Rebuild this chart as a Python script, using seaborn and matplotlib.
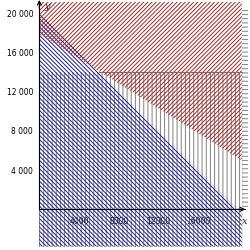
import numpy as np
import matplotlib
matplotlib.use("Agg")
import matplotlib.pyplot as plt
import seaborn as sns

# constraint lines
l1_intercepts = [20000, 20000]   # x + y = 20000 (blue side below)
l2_intercepts = [28300, 17900]   # x-intercept, y-intercept (red side above)
y_cap = 14000                    # y = 14000 (grey side below)

# window of the original drawing
x_right = 20400
y_bottom = -3800
y_top = 21150
dash_x = [20400, 21050]
dash_y = [0, 20400]

y_ticks_major = [4000, 8000, 12000, 16000, 20000]
x_ticks_major = [4000, 8000, 12000, 16000]
minor_ticks = list(range(2000, 20001, 2000))

red = "#9e2a2a"
blue = "#1f1f86"
grey = "#808080"

sns.set_theme(style="white")
plt.rcParams['font.family'] = ['DejaVu Sans']
plt.rcParams['hatch.linewidth'] = 0.7

fig = plt.figure(figsize=(2.5, 2.5), dpi=100)
ax = fig.add_axes([0, 0, 1, 1])
ax.set_xlim(-3960, 21230)
ax.set_ylim(-4153, 21357)

xs = np.array([0, x_right])
l1 = l1_intercepts[1] - l1_intercepts[1] / l1_intercepts[0] * xs
l2 = l2_intercepts[1] - l2_intercepts[1] / l2_intercepts[0] * xs

# grey region y <= 14000
ax.fill_between(xs, y_bottom, y_cap, facecolor="none", edgecolor=grey,
                hatch="||||", linewidth=0)
# blue region below x + y = 20000
ax.fill_between(xs, y_bottom, l1, facecolor="none", edgecolor=blue,
                hatch="\\" * 8, linewidth=0)
# red region above second line
ax.fill_between(xs, l2, y_top, facecolor="none", edgecolor=red,
                hatch="/" * 8, linewidth=0)
# little strip of dashes on the right
ax.fill_between(dash_x, dash_y[0], dash_y[1], facecolor="none", edgecolor=grey,
                hatch="----", linewidth=0)

# boundary of the grey region (visible where it leaves the blue area)
x_meet = l1_intercepts[0] * (1 - y_cap / l1_intercepts[1])
sns.lineplot(x=[x_meet, x_right], y=[y_cap, y_cap], color="#96605f", lw=0.8, ax=ax)
sns.lineplot(x=[x_right, x_right], y=[y_bottom, y_cap], color=grey, lw=0.8, ax=ax)

# axes through the origin
for s in ["top", "right"]:
    ax.spines[s].set_visible(False)
ax.spines["left"].set_position(("data", 0))
ax.spines["bottom"].set_position(("data", 0))
ax.spines["left"].set_bounds(0, 21300)
ax.spines["bottom"].set_bounds(0, 20700)
for s in ["left", "bottom"]:
    ax.spines[s].set_color("black")
    ax.spines[s].set_linewidth(0.8)
    ax.spines[s].set_zorder(5)

ax.annotate("", xy=(20750, 0), xytext=(20000, 0),
            arrowprops=dict(arrowstyle="->", lw=0.8, color="black",
                            shrinkA=0, shrinkB=0, mutation_scale=7), zorder=6)
ax.annotate("", xy=(0, 21357), xytext=(0, 20500),
            arrowprops=dict(arrowstyle="->", lw=0.8, color="black",
                            shrinkA=0, shrinkB=0, mutation_scale=7), zorder=6)

ax.set_xticks(minor_ticks[:-1])
ax.set_xticklabels([str(v) if v in x_ticks_major else "" for v in minor_ticks[:-1]])
ax.set_yticks(minor_ticks)
ax.set_yticklabels([f"{v:,}".replace(",", " ") if v in y_ticks_major else ""
                    for v in minor_ticks])
ax.tick_params(axis="both", direction="inout", length=4.8, width=0.8,
               color="black", labelsize=5.5, labelcolor="black")
ax.tick_params(axis="y", pad=2)
ax.tick_params(axis="x", pad=3.5)
for lab in ax.get_xticklabels():
    lab.set_bbox(dict(facecolor="white", edgecolor="none", pad=0.6))
ax.grid(False)
ax.set_xlabel("")
ax.set_ylabel("")
ax.set_facecolor("white")

ax.text(0.98, 0.112, "x", transform=ax.transAxes, fontsize=7, style="italic",
        family="DejaVu Serif", ha="center", va="center")
ax.text(0.19, 0.975, "y", transform=ax.transAxes, fontsize=7, style="italic",
        family="DejaVu Serif", ha="center", va="center")

fig.savefig("out.png", dpi=100)
